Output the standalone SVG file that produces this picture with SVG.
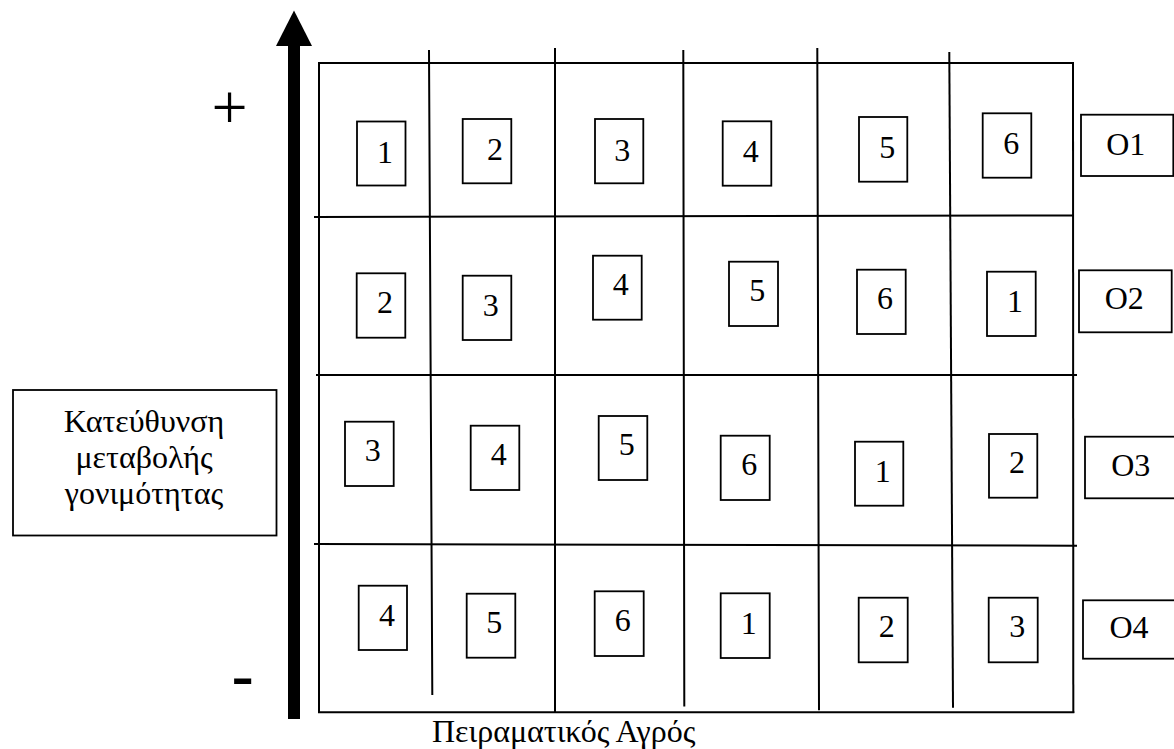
<svg xmlns="http://www.w3.org/2000/svg" width="1174" height="749" viewBox="0 0 1174 749">
  <style>
    .grid { stroke: #000; stroke-width: 2; fill: none; stroke-linecap: square; }
    .plot rect { fill: #fff; stroke: #000; stroke-width: 1.8; }
    .plot text, .lbl { font-family: "Liberation Serif", "Times New Roman", serif; font-size: 32px; fill: #000; }
    .plot text { text-anchor: middle; }
    .lbl { text-anchor: middle; }
  </style>
  <rect x="0" y="0" width="1174" height="749" fill="#fff"/>

  <!-- field outline and plot divisions -->
  <g id="field-grid" class="grid">
    <line x1="319" y1="63" x2="1073" y2="63"/>
    <line x1="319" y1="63" x2="319" y2="712"/>
    <line x1="1073" y1="63" x2="1073.3" y2="712"/>
    <line x1="319" y1="712.3" x2="1073.3" y2="712.3"/>
    <line x1="315" y1="217" x2="1073" y2="215.5"/>
    <line x1="317" y1="375" x2="1076" y2="375"/>
    <line x1="315" y1="544" x2="1076" y2="545.7"/>
    <line x1="429" y1="51" x2="432.3" y2="694"/>
    <line x1="555" y1="49" x2="555" y2="712"/>
    <line x1="683.3" y1="51" x2="684.3" y2="705.5"/>
    <line x1="817.3" y1="49" x2="819" y2="709.3"/>
    <line x1="949.3" y1="53" x2="953" y2="706.7"/>
  </g>

  <!-- fertility gradient arrow -->
  <g id="connectors">
    <rect x="288" y="44" width="12" height="675" fill="#000"/>
    <polygon points="276,46 294,10.5 312,46" fill="#000"/>
  </g>

  <text id="plus" x="229.5" y="129" style="font-family:'Liberation Serif',serif;font-size:64px;text-anchor:middle">+</text>
  <text id="minus" x="231" y="700" style="font-family:'Liberation Sans',Arial,sans-serif;font-size:70px">-</text>

  <g id="legend">
    <rect x="13" y="390" width="263.5" height="145.5" fill="#fff" stroke="#000" stroke-width="1.8"/>
    <text class="lbl" x="144" y="431.5">Κατεύθυνση</text>
    <text class="lbl" x="144" y="467.5">μεταβολής</text>
    <text class="lbl" x="144" y="503.5">γονιμότητας</text>
  </g>

  <text id="field-label" x="432" y="742" style="font-family:'Liberation Serif',serif;font-size:32px">Πειραματικός Αγρός</text>

  <!-- row 1 -->
  <g id="r1c1" class="plot"><rect x="357" y="121.5" width="48.5" height="64"/><text x="385" y="162.5">1</text></g>
  <g id="r1c2" class="plot"><rect x="462.7" y="119" width="48.6" height="64.3"/><text x="495" y="160">2</text></g>
  <g id="r1c3" class="plot"><rect x="595" y="119" width="48.3" height="64.3"/><text x="622.3" y="160.7">3</text></g>
  <g id="r1c4" class="plot"><rect x="722.7" y="121.3" width="48.6" height="64.4"/><text x="750.7" y="162.3">4</text></g>
  <g id="r1c5" class="plot"><rect x="859" y="117" width="48.3" height="64.7"/><text x="887.3" y="157.7">5</text></g>
  <g id="r1c6" class="plot"><rect x="982.7" y="113.3" width="48.6" height="64.4"/><text x="1011.3" y="154">6</text></g>
  <g id="O1" class="plot"><rect x="1081" y="114.7" width="92.3" height="61.3"/><text x="1125.7" y="155">O1</text></g>

  <!-- row 2 -->
  <g id="r2c1" class="plot"><rect x="356.7" y="273.3" width="48.6" height="64.4"/><text x="385" y="313.3">2</text></g>
  <g id="r2c2" class="plot"><rect x="462.7" y="275.7" width="48.6" height="64.3"/><text x="490.7" y="315.7">3</text></g>
  <g id="r2c3" class="plot"><rect x="593" y="255.7" width="48.7" height="64"/><text x="620.7" y="295">4</text></g>
  <g id="r2c4" class="plot"><rect x="729" y="261.7" width="49" height="64.3"/><text x="757.3" y="301">5</text></g>
  <g id="r2c5" class="plot"><rect x="857" y="269.7" width="48.7" height="64.3"/><text x="885" y="309.3">6</text></g>
  <g id="r2c6" class="plot"><rect x="987" y="271.7" width="48.7" height="64.3"/><text x="1015" y="311.7">1</text></g>
  <g id="O2" class="plot"><rect x="1079" y="270.3" width="92.7" height="62"/><text x="1124.3" y="309.3">O2</text></g>

  <!-- row 3 -->
  <g id="r3c1" class="plot"><rect x="345" y="421.7" width="48.7" height="64.3"/><text x="372.7" y="460.7">3</text></g>
  <g id="r3c2" class="plot"><rect x="470.7" y="425.7" width="48.6" height="64.3"/><text x="498.7" y="465">4</text></g>
  <g id="r3c3" class="plot"><rect x="598.7" y="416" width="48.6" height="64"/><text x="626.7" y="455">5</text></g>
  <g id="r3c4" class="plot"><rect x="720.7" y="435.7" width="49" height="64.3"/><text x="749.3" y="475">6</text></g>
  <g id="r3c5" class="plot"><rect x="855" y="441.7" width="48.3" height="64"/><text x="882.7" y="481.7">1</text></g>
  <g id="r3c6" class="plot"><rect x="989" y="434" width="48.3" height="63.7"/><text x="1017" y="473.3">2</text></g>
  <g id="O3" class="plot"><rect x="1085" y="436.7" width="95" height="61.6"/><text x="1130.7" y="476">O3</text></g>

  <!-- row 4 -->
  <g id="r4c1" class="plot"><rect x="358.7" y="585.7" width="48.3" height="64.3"/><text x="387" y="626">4</text></g>
  <g id="r4c2" class="plot"><rect x="466.7" y="593.7" width="48.6" height="64"/><text x="494.3" y="633.3">5</text></g>
  <g id="r4c3" class="plot"><rect x="594.7" y="591.3" width="49" height="64.7"/><text x="622.7" y="631">6</text></g>
  <g id="r4c4" class="plot"><rect x="720.7" y="593.3" width="49" height="64.7"/><text x="748.7" y="634">1</text></g>
  <g id="r4c5" class="plot"><rect x="858.7" y="597.7" width="49" height="64.6"/><text x="886.7" y="637.3">2</text></g>
  <g id="r4c6" class="plot"><rect x="988.7" y="597.7" width="49" height="64.6"/><text x="1017.3" y="637.3">3</text></g>
  <g id="O4" class="plot"><rect x="1083" y="600.3" width="95" height="58.4"/><text x="1129" y="638.3">O4</text></g>
</svg>
